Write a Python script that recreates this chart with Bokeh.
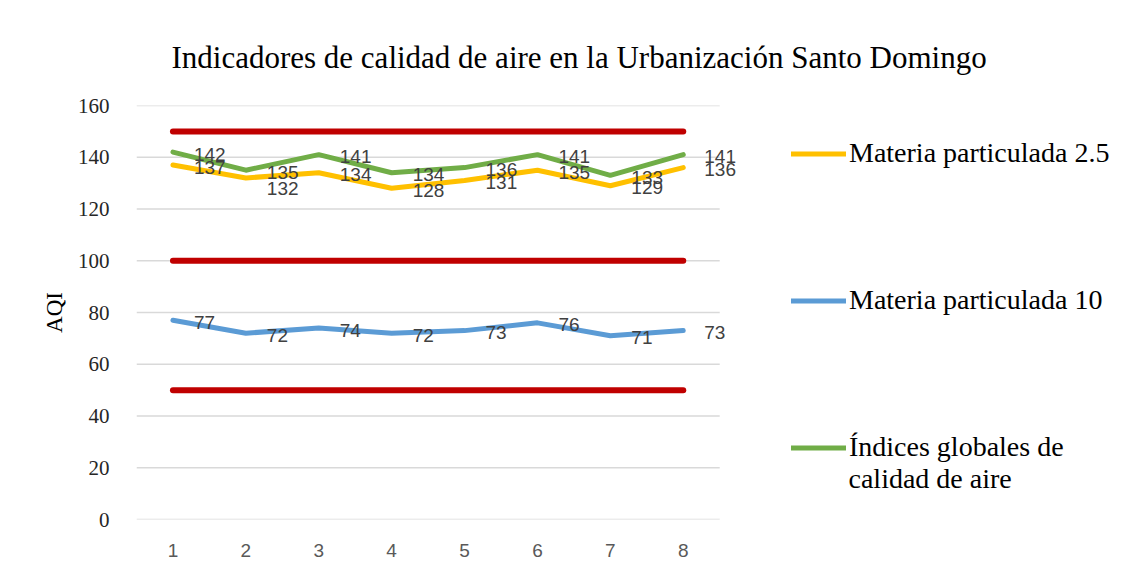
from bokeh.plotting import figure
from bokeh.models import ColumnDataSource, Legend, LegendItem, Label, FixedTicker, Range1d
from bokeh.core.properties import value
from bokeh.embed import file_html
from bokeh.resources import INLINE

# ---- data ----
puntos = [1, 2, 3, 4, 5, 6, 7, 8]
pm25 = [137, 132, 134, 128, 131, 135, 129, 136]
pm10 = [77, 72, 74, 72, 73, 76, 71, 73]
globales = [142, 135, 141, 134, 136, 141, 133, 141]
umbrales = [150, 100, 50]
y_ticks = [0, 20, 40, 60, 80, 100, 120, 140, 160]

titulo = "Indicadores de calidad de aire en la Urbanización Santo Domingo"
nombres = ["Materia particulada 2.5", "Materia particulada 10", "Índices globales de"]
nombre_extra = "calidad de aire"

c_pm25 = "#FFC000"
c_pm10 = "#5B9BD5"
c_glob = "#70AD47"
c_red = "#C00000"

W, H = 1130, 570
left, top, bottom, right = 136, 105, 519, 1120
px_x = 72.9      # pixels per category step
x0 = puntos[0] - 0.5
x_end = x0 + (right - left) / px_x

p = figure(width=W, height=H, output_backend="svg", toolbar_location=None,
           x_range=Range1d(x0, x_end), y_range=Range1d(y_ticks[0], y_ticks[-1]),
           min_border_left=left, min_border_top=top,
           min_border_right=W - right, min_border_bottom=H - bottom)
p.outline_line_color = None
p.background_fill_color = "white"
p.border_fill_color = "white"

# title
p.title.text = titulo
p.title.align = "left"
p.title.offset = 35
p.title.text_font = "Liberation Serif"
p.title.text_font_size = "31px"
p.title.text_font_style = "normal"
p.title.text_color = "black"
p.title.standoff = 62

# axes
p.xaxis.ticker = FixedTicker(ticks=puntos)
p.yaxis.ticker = FixedTicker(ticks=y_ticks)
for ax in (p.xaxis[0], p.yaxis[0]):
    ax.axis_line_color = None
    ax.major_tick_line_color = None
    ax.minor_tick_line_color = None
p.xaxis.major_label_text_font = "Liberation Sans"
p.xaxis.major_label_text_font_size = "19px"
p.xaxis.major_label_text_color = "#595959"
p.xaxis.major_label_standoff = 18
p.yaxis.major_label_text_font = "Liberation Serif"
p.yaxis.major_label_text_font_size = "21px"
p.yaxis.major_label_text_color = "#262626"
p.yaxis.major_label_standoff = 21
p.yaxis.axis_label = "AQI"
p.yaxis.axis_label_text_font = "Liberation Serif"
p.yaxis.axis_label_text_font_size = "23px"
p.yaxis.axis_label_text_font_style = "normal"
p.yaxis.axis_label_text_color = "black"
p.yaxis.axis_label_standoff = 8

p.xgrid.grid_line_color = None
p.ygrid.grid_line_color = None

# horizontal gridlines over the category span only
g_x0 = puntos[0] - 0.5
g_x1 = puntos[-1] + 0.5
p.segment(x0=[g_x0] * len(y_ticks), x1=[g_x1] * len(y_ticks), y0=y_ticks, y1=y_ticks,
          line_color="#D9D9D9", line_width=1.5)

# threshold lines
p.segment(x0=[puntos[0]] * len(umbrales), x1=[puntos[-1]] * len(umbrales),
          y0=umbrales, y1=umbrales, line_color=c_red, line_width=6, line_cap="round")

# labels of PM2.5 that would collide with the global index label get pushed down
pm25_dy = [11 if abs(g - v) <= 3 else 2 for g, v in zip(globales, pm25)]

src = ColumnDataSource(dict(x=puntos, pm25=pm25, pm10=pm10, glob=globales,
                            pm25_t=[str(v) for v in pm25],
                            pm10_t=[str(v) for v in pm10],
                            glob_t=[str(v) for v in globales],
                            pm25_dy=pm25_dy))

r1 = p.line("x", "pm25", source=src, line_color=c_pm25, line_width=5, line_join="round", line_cap="round")
r2 = p.line("x", "pm10", source=src, line_color=c_pm10, line_width=5, line_join="round", line_cap="round")
r3 = p.line("x", "glob", source=src, line_color=c_glob, line_width=5, line_join="round", line_cap="round")

lbl_kw = dict(source=src, text_font=value("Liberation Sans"), text_font_size="19px",
              text_color="#404040", text_align="left", text_baseline="middle", x_offset=21)
p.text("x", "pm25", text="pm25_t", y_offset="pm25_dy", **lbl_kw)
p.text("x", "pm10", text="pm10_t", y_offset=2, **lbl_kw)
p.text("x", "glob", text="glob_t", y_offset=2, **lbl_kw)

# legend
legend = Legend(items=[LegendItem(label=nombres[0], renderers=[r1]),
                       LegendItem(label=nombres[1], renderers=[r2]),
                       LegendItem(label=nombres[2], renderers=[r3])],
                location=(791 - left, bottom - 463.5), orientation="vertical",
                glyph_width=55, glyph_height=33, label_height=33, spacing=114,
                label_standoff=3, padding=0, margin=0,
                label_text_font="Liberation Serif", label_text_font_size="28px",
                label_text_color="black",
                border_line_alpha=0, background_fill_alpha=0)
p.add_layout(legend, "center")
p.add_layout(Label(x=848 - left, y=bottom - 478, x_units="screen", y_units="screen", text=nombre_extra,
                   text_font="Liberation Serif", text_font_size="28px", text_color="black",
                   text_align="left", text_baseline="middle"))

open("out.html", "w").write(file_html(p, INLINE))
